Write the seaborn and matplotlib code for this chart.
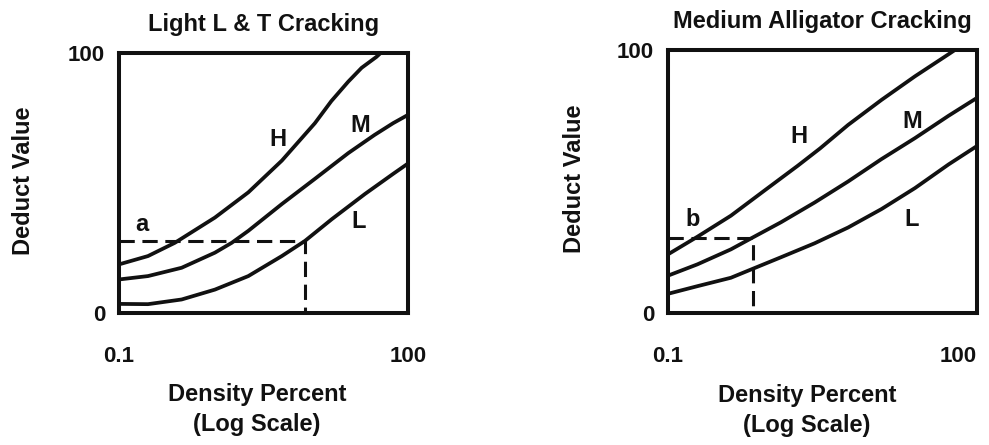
import matplotlib

matplotlib.use("Agg")
import matplotlib.pyplot as plt
import seaborn as sns

# Light L & T Cracking curves (density %, deduct value)
light_h_x = [0.1, 0.2, 0.38, 0.99, 2.2, 4.9, 10.8, 16.0, 24.0, 33.0, 47.0, 52.0]
light_h_y = [18.7, 21.9, 27.0, 36.7, 46.4, 58.6, 73.0, 81.5, 89.0, 94.3, 98.5, 100.0]
light_m_x = [0.1, 0.2, 0.447, 0.99, 1.48, 2.2, 4.9, 10.8, 24.0, 45.0, 70.0, 100.0]
light_m_y = [12.9, 14.2, 17.4, 23.2, 27.0, 31.6, 41.9, 51.6, 61.5, 68.5, 73.0, 76.2]
light_l_x = [0.1, 0.2, 0.447, 0.99, 2.2, 4.9, 8.5, 16.2, 35.8, 70.0, 100.0]
light_l_y = [3.5, 3.4, 5.2, 9.0, 14.2, 21.9, 27.7, 36.1, 45.8, 53.5, 57.5]
light_guide_x = [0.1, 8.5, 8.5]
light_guide_y = [27.7, 27.7, 0.0]

# Medium Alligator Cracking curves
medium_h_x = [0.1, 0.193, 0.408, 0.86, 1.82, 3.0, 5.6, 11.8, 25.0, 53.0, 61.0]
medium_h_y = [22.3, 29.0, 37.0, 46.5, 56.0, 62.6, 71.5, 81.0, 90.0, 98.4, 100.0]
medium_m_x = [0.1, 0.193, 0.408, 0.664, 1.25, 2.65, 5.6, 11.8, 25.0, 53.0, 100.0]
medium_m_y = [14.2, 18.5, 24.2, 28.7, 34.5, 42.0, 50.0, 58.5, 66.5, 75.0, 81.8]
medium_l_x = [0.1, 0.193, 0.408, 0.664, 1.25, 2.65, 5.6, 11.8, 25.0, 53.0, 100.0]
medium_l_y = [7.3, 10.2, 13.4, 16.8, 21.2, 26.5, 32.5, 39.5, 47.5, 56.5, 63.5]
medium_guide_x = [0.1, 0.664, 0.664]
medium_guide_y = [28.7, 28.7, 0.0]

light_labels = [("a", 0.172, 34.0), ("H", 4.5, 66.7), ("M", 32.0, 72.0), ("L", 30.5, 35.0)]
medium_labels = [("b", 0.175, 35.4), ("H", 1.85, 67.0), ("M", 23.4, 72.8), ("L", 23.4, 35.4)]

x_ticks = [0.1, 100]
x_tick_labels = ["0.1", "100"]
y_ticks = [0, 100]
y_tick_labels = ["0", "100"]

sns.set_style("white")
plt.rcParams["font.family"] = ["Liberation Sans", "DejaVu Sans"]
plt.rcParams["font.weight"] = "bold"

INK = "#111111"


def draw_panel(ax, title, curves, guide, labels):
    for xs, ys in curves:
        sns.lineplot(x=xs, y=ys, ax=ax, color=INK, linewidth=2.7, sort=False, estimator=None)
    sns.lineplot(x=guide[0], y=guide[1], ax=ax, color=INK, linewidth=2.2,
                 sort=False, estimator=None, linestyle=(0, (5.0, 2.5)))
    for text, lx, ly in labels:
        ax.text(lx, ly, text, ha="center", va="center", fontsize=17, fontweight="bold", color=INK)

    ax.set_xscale("log")
    ax.set_xlim(0.1, 100)
    ax.set_ylim(0, 100)
    ax.set_xticks(x_ticks)
    ax.set_xticklabels(x_tick_labels)
    ax.set_yticks(y_ticks)
    ax.set_yticklabels(y_tick_labels)
    ax.minorticks_off()
    ax.tick_params(axis="both", length=0, labelsize=16, colors=INK)
    ax.tick_params(axis="x", pad=24)
    ax.tick_params(axis="y", pad=10)
    for lab in ax.get_yticklabels():
        lab.set_va("center_baseline")
    for spine in ax.spines.values():
        spine.set_visible(True)
        spine.set_linewidth(2.9)
        spine.set_color(INK)
    ax.set_title(title, fontsize=17, fontweight="bold", color=INK, pad=16)
    ax.set_ylabel("Deduct Value", fontsize=17, fontweight="bold", color=INK)
    ax.set_xlabel("Density Percent\n(Log Scale)", fontsize=17, fontweight="bold",
                  color=INK, linespacing=1.4)


fig = plt.figure(figsize=(9.89, 4.45), dpi=100)
ax_left = fig.add_axes([119 / 989, 132 / 445, 289 / 989, 260 / 445])
ax_right = fig.add_axes([668 / 989, 132 / 445, 309 / 989, 263 / 445])

draw_panel(ax_left, "Light L & T Cracking",
           [(light_h_x, light_h_y), (light_m_x, light_m_y), (light_l_x, light_l_y)],
           (light_guide_x, light_guide_y), light_labels)
draw_panel(ax_right, "Medium Alligator Cracking",
           [(medium_h_x, medium_h_y), (medium_m_x, medium_m_y), (medium_l_x, medium_l_y)],
           (medium_guide_x, medium_guide_y), medium_labels)

# the right panel's last x label sits inside the frame edge
ax_right.get_xticklabels()[-1].set_ha("right")

ax_left.yaxis.set_label_coords(-0.29, 0.51)
ax_right.yaxis.set_label_coords(-0.265, 0.51)
ax_left.xaxis.set_label_coords(0.477, -0.27)
ax_right.xaxis.set_label_coords(0.45, -0.27)

fig.savefig("out.png", dpi=100)
